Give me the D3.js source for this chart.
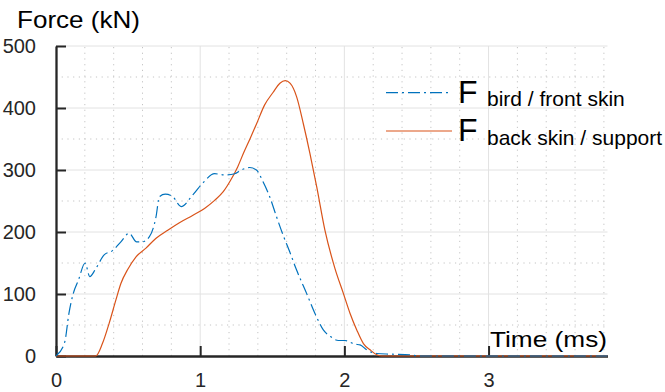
<!DOCTYPE html>
<html>
<head>
<meta charset="utf-8">
<script src="https://cdn.jsdelivr.net/npm/d3@7"></script>
<style>
  html, body { margin: 0; padding: 0; background: #fff; }
  svg { display: block; font-family: "Liberation Sans", Arial, Helvetica, sans-serif; }
</style>
</head>
<body>
<svg id="chart" width="665" height="392"></svg>
<script>
// ---- data ----
const xTicks = [0, 1, 2, 3];
const yTicks = [0, 100, 200, 300, 400, 500];
const xMinorTicks = [0.2, 0.4, 0.6, 0.8, 1.2, 1.4, 1.6, 1.8, 2.2, 2.4, 2.6, 2.8, 3.2, 3.4, 3.6, 3.8];
const yMinorTicks = [50, 150, 250, 350, 450];

const birdTime = [0, 0.06, 0.09, 0.12, 0.155, 0.202, 0.234, 0.276, 0.334, 0.392, 0.45, 0.508, 0.559, 0.596, 0.647, 0.694, 0.717, 0.758, 0.81, 0.868, 0.949, 1.018, 1.1, 1.169, 1.239, 1.285, 1.343, 1.39, 1.436, 1.482, 1.529, 1.575, 1.621, 1.668, 1.738, 1.807, 1.854, 1.9, 1.958, 2.004, 2.074, 2.109, 2.155, 2.225, 2.317, 2.457, 2.52, 3.825];
const birdForce = [0, 22, 69, 101, 122, 150, 128, 141, 163, 170, 184, 198, 184, 184, 192, 225, 257, 261, 257, 241, 260, 279, 294, 292, 294, 300, 304, 300, 281, 257, 225, 195, 168, 139, 101, 63, 42, 32, 25, 25, 19, 18, 10, 4, 3, 2, 0, 0];

const backTime = [0, 0.276, 0.322, 0.369, 0.415, 0.45, 0.496, 0.555, 0.624, 0.694, 0.775, 0.856, 0.95, 1.03, 1.1, 1.16, 1.21, 1.26, 1.3, 1.345, 1.392, 1.447, 1.505, 1.553, 1.59, 1.623, 1.669, 1.715, 1.761, 1.808, 1.865, 1.935, 1.993, 2.039, 2.086, 2.132, 2.178, 2.225, 2.26, 3.825];
const backForce = [0, 0, 20, 53, 90, 117, 139, 160, 174, 190, 203, 215, 227, 238, 251, 265, 283, 305, 327, 350, 375, 405, 425, 440, 444, 440, 418, 375, 327, 273, 203, 141, 101, 69, 42, 20, 10, 2, 0, 0];

const seriesNames = ["bird / front skin", "back skin / support"];
const seriesColors = ["#0072BD", "#D95319"];
const yLabel = "Force (kN)";
const xLabel = "Time (ms)";

// ---- layout ----
const svg = d3.select("#chart");
const x = d3.scaleLinear().domain([0, 3.825]).range([56, 607.5]);
const y = d3.scaleLinear().domain([0, 500]).range([356, 46]);
const dashDot = "12,4,2,4";

const grid = svg.append("g");
// minor dotted grid
grid.selectAll(".vminor").data(xMinorTicks).enter().append("line")
  .attr("x1", d => x(d)).attr("x2", d => x(d))
  .attr("y1", y(0)).attr("y2", y(500))
  .attr("stroke", "#c4c4c4").attr("stroke-width", 1)
  .attr("stroke-dasharray", "1.2,4.5");
grid.selectAll(".hminor").data(yMinorTicks).enter().append("line")
  .attr("x1", x(0)).attr("x2", x(3.825))
  .attr("y1", d => y(d)).attr("y2", d => y(d))
  .attr("stroke", "#c4c4c4").attr("stroke-width", 1)
  .attr("stroke-dasharray", "1.2,4.5");
// major grid
grid.selectAll(".vmajor").data(xTicks.filter(d => d > 0)).enter().append("line")
  .attr("x1", d => x(d)).attr("x2", d => x(d))
  .attr("y1", y(0)).attr("y2", y(500))
  .attr("stroke", "#e2e2e2").attr("stroke-width", 1);
grid.selectAll(".hmajor").data(yTicks.filter(d => d > 0)).enter().append("line")
  .attr("x1", x(0)).attr("x2", x(3.825))
  .attr("y1", d => y(d)).attr("y2", d => y(d))
  .attr("stroke", "#e2e2e2").attr("stroke-width", 1);

// axes
const axisColor = "#262626";
const yAxis = d3.axisLeft(y).tickValues(yTicks).tickFormat(d3.format("d"))
  .tickSizeInner(-10).tickSizeOuter(0).tickPadding(20);
const gy = svg.append("g").attr("transform", `translate(${x(0)},0)`).call(yAxis);
gy.select(".domain").attr("stroke", axisColor).attr("stroke-width", 2.3);
gy.selectAll(".tick line").attr("stroke", axisColor).attr("stroke-width", 2);
gy.selectAll(".tick text").attr("fill", "#262626").attr("font-size", 20)
  .attr("font-family", "Liberation Sans, Arial, sans-serif").attr("dy", "0.34em");

const xAxis = d3.axisBottom(x).tickValues(xTicks).tickFormat(d3.format("d"))
  .tickSizeInner(-10).tickSizeOuter(0).tickPadding(20);
const gx = svg.append("g").attr("transform", `translate(0,${y(0)})`).call(xAxis);
gx.select(".domain").attr("stroke", axisColor).attr("stroke-width", 2.3);
gx.selectAll(".tick line").attr("stroke", axisColor).attr("stroke-width", 2);
gx.selectAll(".tick text").attr("fill", "#262626").attr("font-size", 20)
  .attr("font-family", "Liberation Sans, Arial, sans-serif").attr("dy", "0.55em");

// lines
const line = d3.line().x(d => x(d[0])).y(d => y(d[1])).curve(d3.curveMonotoneX);
const birdData = birdTime.map((t, i) => [t, birdForce[i]]);
const backData = backTime.map((t, i) => [t, backForce[i]]);

svg.append("path").datum(backData)
  .attr("d", line).attr("fill", "none")
  .attr("stroke", seriesColors[1]).attr("stroke-width", 1.2);
svg.append("path").datum(birdData)
  .attr("d", line).attr("fill", "none")
  .attr("stroke", seriesColors[0]).attr("stroke-width", 1.2)
  .attr("stroke-dasharray", dashDot);

// axis labels
svg.append("text").attr("x", 17).attr("y", 27.5)
  .attr("font-size", 24).attr("fill", "#000")
  .attr("textLength", 123).attr("lengthAdjust", "spacingAndGlyphs")
  .text(yLabel);
svg.append("text").attr("x", 490).attr("y", 347)
  .attr("font-size", 22).attr("fill", "#000")
  .attr("textLength", 117).attr("lengthAdjust", "spacingAndGlyphs")
  .text(xLabel);

// legend
const legendRows = [
  { lineY: 92.7, fY: 103.3, subY: 106, dash: dashDot },
  { lineY: 131, fY: 141, subY: 145, dash: null }
];
const lg = svg.append("g");
legendRows.forEach((r, i) => {
  const l = lg.append("line").attr("x1", 386).attr("x2", 452)
    .attr("y1", r.lineY).attr("y2", r.lineY)
    .attr("stroke", seriesColors[i]).attr("stroke-width", 1.2);
  if (r.dash) l.attr("stroke-dasharray", r.dash);
  lg.append("text").attr("x", 458).attr("y", r.fY)
    .attr("font-size", 32).attr("fill", "#000").text("F");
  lg.append("text").attr("x", 487).attr("y", r.subY)
    .attr("font-size", 21).attr("fill", "#000").text(seriesNames[i]);
});
</script>
</body>
</html>
